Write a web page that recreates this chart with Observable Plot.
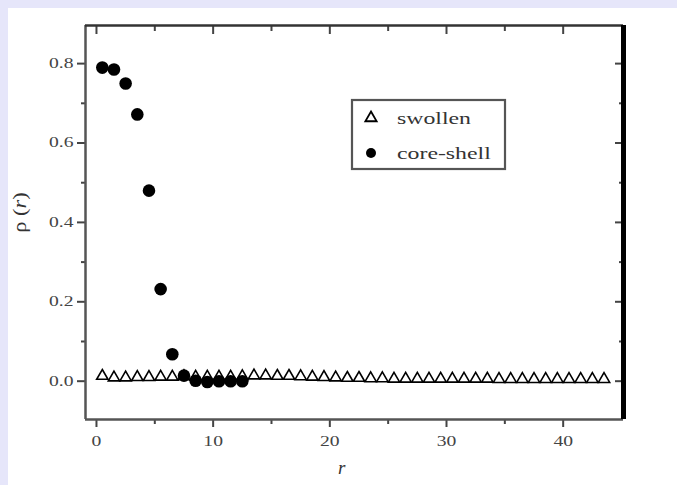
<!DOCTYPE html>
<html>
<head>
<meta charset="utf-8">
<script src="https://cdn.jsdelivr.net/npm/d3@7"></script>
<script src="https://cdn.jsdelivr.net/npm/@observablehq/plot@0.6"></script>
<style>
  html, body { margin: 0; padding: 0; background: #e6e6fa; }
  #page { position: relative; width: 677px; height: 485px; overflow: hidden; }
  #panel { position: absolute; left: 8px; top: 8px; width: 669px; height: 477px; background: #fff; }
  #panel svg { display: block; background: #fff; }
  .lbl { position: absolute; font-family: "Liberation Serif", "DejaVu Serif", serif; color: #333; white-space: nowrap; }
</style>
</head>
<body>
<div id="page">
  <div id="panel"></div>
  <div class="lbl" id="ylab" style="left:4px; top:202px; font-size:18px; transform: rotate(-90deg) scaleX(1.25); transform-origin: center;">ρ (<i>r</i>)</div>
  <div class="lbl" id="xlab" style="left:338px; top:457px; font-size:19px;"><i>r</i></div>
  <svg id="legend" width="158" height="74" style="position:absolute; left:350px; top:98px;"></svg>
</div>
<script>
// ---- data ----
const coreR   = [0.5, 1.5, 2.5, 3.5, 4.5, 5.5, 6.5, 7.5, 8.5, 9.5, 10.5, 11.5, 12.5];
const coreRho = [0.790, 0.785, 0.750, 0.672, 0.480, 0.232, 0.068, 0.014, 0.001, -0.002, 0.000, 0.000, 0.000];

const swollenR = [0.5, 1.5, 2.5, 3.5, 4.5, 5.5, 6.5, 7.5, 8.5, 9.5, 10.5, 11.5, 12.5, 13.5, 14.5,
  15.5, 16.5, 17.5, 18.5, 19.5, 20.5, 21.5, 22.5, 23.5, 24.5, 25.5, 26.5, 27.5, 28.5, 29.5,
  30.5, 31.5, 32.5, 33.5, 34.5, 35.5, 36.5, 37.5, 38.5, 39.5, 40.5, 41.5, 42.5, 43.5];
const swollenRho = [0.013, 0.009, 0.009, 0.010, 0.010, 0.011, 0.011, 0.012, 0.011, 0.011, 0.011, 0.011, 0.012, 0.014, 0.014,
  0.013, 0.013, 0.012, 0.011, 0.010, 0.009, 0.008, 0.008, 0.007, 0.007, 0.006, 0.006, 0.006, 0.006, 0.006,
  0.006, 0.006, 0.006, 0.006, 0.005, 0.005, 0.005, 0.005, 0.005, 0.005, 0.005, 0.005, 0.005, 0.005];

const xMajor = [0, 10, 20, 30, 40];
const xMinor = [5, 15, 25, 35];
const yMajor = [0.0, 0.2, 0.4, 0.6, 0.8];
const yMinor = [0.1, 0.3, 0.5, 0.7];
const xDomain = [-0.94, 45.17];
const yDomain = [-0.0965, 0.896];

const seriesNames = ["swollen", "core-shell"];

const core = coreR.map((r, i) => ({r, rho: coreRho[i]}));
const swollen = swollenR.map((r, i) => ({r, rho: swollenRho[i]}));

const tickColor = "#444";
const font = "Liberation Serif, DejaVu Serif, serif";
const blank = () => "";

const chart = Plot.plot({
  width: 669,
  height: 477,
  marginLeft: 77,
  marginRight: 54,
  marginTop: 17,
  marginBottom: 66,
  style: {fontFamily: font, background: "#fff", overflow: "visible"},
  x: {domain: xDomain},
  y: {domain: yDomain},
  marks: [
    // bottom axis (outward)
    Plot.axisX({anchor: "bottom", ticks: xMajor, tickSize: 8, tickPadding: 9, tickFormat: d => d3.format("d")(d), fontSize: 14, stroke: tickColor, strokeWidth: 2, fill: "#444", label: null}),
    Plot.axisX({anchor: "bottom", ticks: xMinor, tickSize: 5, tickFormat: blank, stroke: tickColor, strokeWidth: 2, label: null}),
    // top axis (inward)
    Plot.axisX({anchor: "top", ticks: xMajor, tickSize: -8, tickFormat: blank, stroke: tickColor, strokeWidth: 2, label: null}),
    Plot.axisX({anchor: "top", ticks: xMinor, tickSize: -5, tickFormat: blank, stroke: tickColor, strokeWidth: 2, label: null}),
    // left axis (outward)
    Plot.axisY({anchor: "left", ticks: yMajor, tickSize: 8, tickPadding: 4, tickFormat: d => d3.format(".1f")(d), fontSize: 14, stroke: tickColor, strokeWidth: 2, fill: "#444", label: null}),
    Plot.axisY({anchor: "left", ticks: yMinor, tickSize: 4, tickFormat: blank, stroke: tickColor, strokeWidth: 2, label: null}),
    // right axis (inward)
    Plot.axisY({anchor: "right", ticks: yMajor, tickSize: -9, tickFormat: blank, stroke: tickColor, strokeWidth: 2, label: null}),
    Plot.axisY({anchor: "right", ticks: yMinor, tickSize: -5, tickFormat: blank, stroke: tickColor, strokeWidth: 2, label: null}),
    // frame
    Plot.ruleX([xDomain[0]], {stroke: "#555", strokeWidth: 2.5}),
    Plot.ruleY([yDomain[0]], {stroke: "#555", strokeWidth: 2.5}),
    Plot.ruleY([yDomain[1]], {stroke: "#333", strokeWidth: 2.5}),
    Plot.ruleX([xDomain[1]], {stroke: "#000", strokeWidth: 5}),
    // data
    Plot.dot(swollen, {x: "r", y: "rho", symbol: "triangle", r: 4.2, stroke: "#000", fill: "#fff", strokeWidth: 1.6}),
    Plot.dot(core, {x: "r", y: "rho", symbol: "circle", r: 6.3, fill: "#000", stroke: "none"})
  ]
});

document.getElementById("panel").appendChild(chart);

// horizontally stretch tick labels to mimic the reference's wide glyphs
function stretch(sel, k) {
  sel.each(function() {
    const w = this.getComputedTextLength();
    if (w > 0) {
      this.setAttribute("textLength", (w * k).toFixed(1));
      this.setAttribute("lengthAdjust", "spacingAndGlyphs");
    }
  });
}
stretch(d3.select(chart).selectAll("text"), 1.4);

// legend
const lg = d3.select("#legend");
lg.append("rect").attr("x", 2).attr("y", 2).attr("width", 153).attr("height", 69)
  .attr("fill", "#fff").attr("stroke", "#555").attr("stroke-width", 2.2);
const sym = [d3.symbol(d3.symbolTriangle, Math.PI * 4.2 * 4.2)(), d3.symbol(d3.symbolCircle, Math.PI * 5 * 5)()];
seriesNames.forEach((name, i) => {
  const cy = 20 + i * 35;
  lg.append("path").attr("d", sym[i]).attr("transform", `translate(21,${cy})`)
    .attr("fill", i === 0 ? "#fff" : "#000").attr("stroke", i === 0 ? "#000" : "none").attr("stroke-width", 1.8);
  lg.append("text").attr("x", 47).attr("y", cy + 6).text(name)
    .attr("font-family", font).attr("font-size", 17).attr("fill", "#333");
});
stretch(lg.selectAll("text"), 1.4);
</script>
</body>
</html>
